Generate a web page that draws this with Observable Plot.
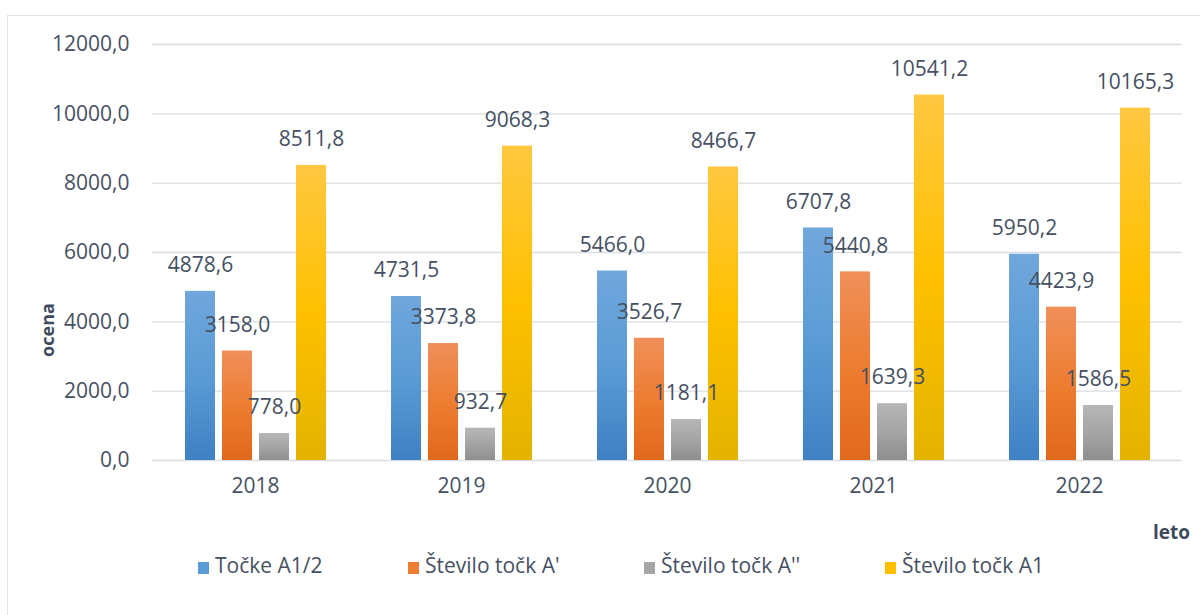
<!DOCTYPE html>
<html>
<head>
<meta charset="utf-8">
<script src="https://cdn.jsdelivr.net/npm/d3@7"></script>
<script src="https://cdn.jsdelivr.net/npm/@observablehq/plot@0.6"></script>
<style>
  html, body { margin: 0; padding: 0; background: #fff; }
  body { width: 1200px; height: 615px; position: relative; overflow: hidden; font-family: "Open Sans", sans-serif; color: #465063; }
  #frame { position: absolute; left: 7px; top: 15px; width: 1200px; height: 620px; border-top: 1px solid #dde3ea; border-left: 1px solid #dde3ea; }
  #chart { position: absolute; left: 0; top: 0; }
  #ylabel { position: absolute; left: 47px; top: 330px; transform: translate(-50%, -50%) rotate(-90deg); font-weight: bold; font-size: 18px; white-space: nowrap; color: #3e4a5e; }
  #xlabel { position: absolute; left: 1153px; top: 519px; font-weight: bold; font-size: 19px; color: #3e4a5e; }
  #legend { position: absolute; top: 551px; left: 0; width: 1200px; height: 28px; font-size: 21px; }
  .item { position: absolute; top: 0; white-space: nowrap; }
  .sw { display: inline-block; width: 11px; height: 12px; margin-right: 6px; vertical-align: -1px; }
</style>
</head>
<body>
<div id="frame"></div>
<div id="chart"></div>
<div id="ylabel">ocena</div>
<div id="xlabel">leto</div>
<div id="legend"></div>
<script>
const years = ["2018", "2019", "2020", "2021", "2022"];
const seriesNames = ["Točke A1/2", "Število točk A'", "Število točk A''", "Število točk A1"];
const tockeA12 = [4878.6, 4731.5, 5466.0, 6707.8, 5950.2];
const steviloA1 = [3158.0, 3373.8, 3526.7, 5440.8, 4423.9];
const steviloA2 = [778.0, 932.7, 1181.1, 1639.3, 1586.5];
const steviloA = [8511.8, 9068.3, 8466.7, 10541.2, 10165.3];
const yTicks = [0, 2000, 4000, 6000, 8000, 10000, 12000];
const legendSwatch = ["#5b9bd5", "#ed7d31", "#a5a5a5", "#ffc000"];
const gradientStops = [
  ["#70a7dd", "#5b9bd5", "#3f80c4"],
  ["#f08f5a", "#ed7d31", "#e1681b"],
  ["#b6b6b6", "#a5a5a5", "#8e8e8e"],
  ["#ffc840", "#ffc000", "#e3b300"]
];

const allValues = [tockeA12, steviloA1, steviloA2, steviloA];
const data = [];
years.forEach((year, i) => {
  seriesNames.forEach((s, j) => data.push({ year, series: s, value: allValues[j][i] }));
});

const fmt = d => d.toFixed(1).replace(".", ",");
const textColor = "#465063";

const plot = Plot.plot({
  width: 1200,
  height: 520,
  marginLeft: 151,
  marginRight: 18,
  marginTop: 44,
  marginBottom: 60,
  style: { fontFamily: "Open Sans, sans-serif", fontSize: "21px", color: textColor, background: "transparent" },
  fx: { domain: years, padding: 0, label: null, tickSize: 0, tickPadding: 18 },
  x: { domain: seriesNames, paddingInner: 0.19, paddingOuter: 0.82, axis: null },
  y: { domain: [0, 12000], ticks: yTicks, tickFormat: fmt, tickSize: 0, tickPadding: 23, label: null },
  color: { domain: seriesNames, range: seriesNames.map((_, i) => `url(#grad${i})`) },
  marks: [
    Plot.gridY(yTicks, { stroke: "#d9dee6", strokeOpacity: 1, strokeWidth: 1.3 }),
    Plot.barY(data, { fx: "year", x: "series", y: "value", fill: "series" }),
    Plot.text(data, { fx: "year", x: "series", y: "value", text: d => fmt(d.value), dy: -26, fill: textColor, fontSize: 21 })
  ]
});

const svgNS = "http://www.w3.org/2000/svg";
const defs = document.createElementNS(svgNS, "defs");
gradientStops.forEach((stops, i) => {
  const lg = document.createElementNS(svgNS, "linearGradient");
  lg.setAttribute("id", `grad${i}`);
  lg.setAttribute("x1", "0"); lg.setAttribute("y1", "0");
  lg.setAttribute("x2", "0"); lg.setAttribute("y2", "1");
  stops.forEach((c, k) => {
    const st = document.createElementNS(svgNS, "stop");
    st.setAttribute("offset", `${k * 50}%`);
    st.setAttribute("stop-color", c);
    lg.appendChild(st);
  });
  defs.appendChild(lg);
});
plot.insertBefore(defs, plot.firstChild);
document.getElementById("chart").appendChild(plot);

const legendX = [198, 408, 644, 885];
const legend = document.getElementById("legend");
seriesNames.forEach((s, i) => {
  const item = document.createElement("div");
  item.className = "item";
  item.style.left = legendX[i] + "px";
  item.innerHTML = `<span class="sw" style="background:${legendSwatch[i]}"></span>`;
  item.appendChild(document.createTextNode(s));
  legend.appendChild(item);
});
</script>
</body>
</html>
